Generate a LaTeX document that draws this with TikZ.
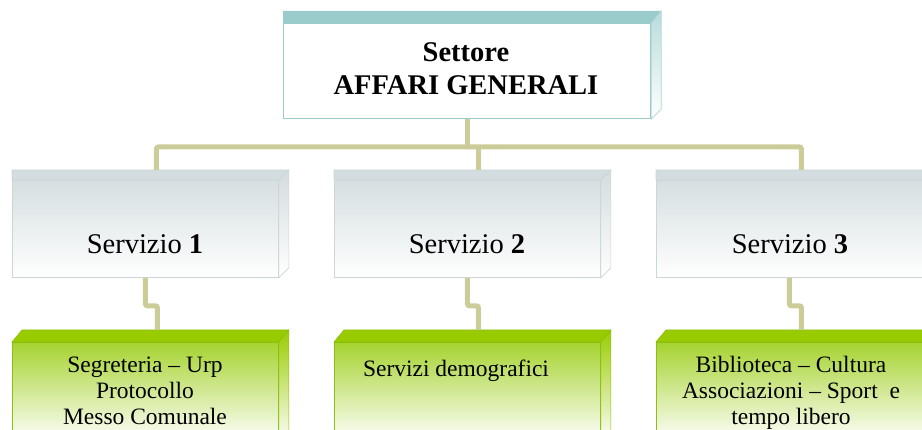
\documentclass[tikz,border=0pt]{standalone}
\usepackage{fontspec}
\setmainfont{Liberation Serif}
\usetikzlibrary{calc}
\definecolor{tealc}{HTML}{9ACCCB}
\definecolor{grayedge}{HTML}{CCD6D8}
\definecolor{grayface}{HTML}{D3DCDE}
\definecolor{graytop}{HTML}{D6DFE1}
\definecolor{greentop}{HTML}{99CC00}
\definecolor{greenface}{HTML}{A6D330}
\definecolor{greenedge}{HTML}{8CBF10}
\definecolor{linec}{HTML}{CCCC99}
\begin{document}
\begin{tikzpicture}[x=1pt,y=-1pt,
  topbox/.style={draw=tealc, line width=1.2pt, fill=white, minimum width=367pt, minimum height=95pt, inner sep=0pt, anchor=north west},
  servbox/.style={draw=grayedge, line width=0.8pt, top color=graytop, bottom color=white, minimum width=266pt, minimum height=97pt, inner sep=0pt, anchor=north west},
  greenbox/.style={draw=greenedge, line width=0.8pt, top color=greenface, bottom color=white, minimum width=266pt, minimum height=100pt, inner sep=0pt, anchor=north west},
  conn/.style={draw=linec, line width=5pt, rounded corners=2pt},
  bigtxt/.style={font=\fontsize{28.5}{33}\selectfont, align=center, anchor=base},
  smalltxt/.style={font=\fontsize{23.5}{26}\selectfont, align=center, anchor=base},
]
\useasboundingbox (0,0) rectangle (922,430);

% ---- top box ----
\node[topbox] (top) at (283,23) {};
\fill[tealc] (top.north west) -- ++(0,-12) -- ($(top.north east)+(10,-12)$) -- (top.north east) -- cycle;
\shade[top color=tealc!70, bottom color=white, draw=tealc!80, line width=0.6pt]
  (top.north east) -- ++(10,-12) -- ($(top.south east)+(10,-10)$) -- (top.south east) -- cycle;

% ---- service boxes ----
\foreach \n/\x in {1/12, 2/334, 3/656} {
  \node[servbox] (s\n) at (\x,180) {};
  \fill[grayface, draw=grayedge, line width=0.6pt] (s\n.north west) -- ++(0,-10) -- ($(s\n.north east)+(10,-10)$) -- (s\n.north east) -- cycle;
  \shade[top color=grayface, bottom color=white, draw=grayedge, line width=0.6pt]
    (s\n.north east) -- ++(10,-10) -- ($(s\n.south east)+(10,-10)$) -- (s\n.south east) -- cycle;
}

% ---- green boxes ----
\foreach \n/\x in {1/12, 2/334, 3/656} {
  \node[greenbox] (g\n) at (\x,342) {};
  \fill[greentop, draw=greenedge, line width=0.6pt] (g\n.north west) -- ++(10,-12) -- ($(g\n.north east)+(10,-12)$) -- (g\n.north east) -- cycle;
  \shade[top color=greentop, bottom color=white, draw=greenedge, line width=0.6pt]
    (g\n.north east) -- ++(10,-12) -- ($(g\n.south east)+(10,-12)$) -- (g\n.south east) -- cycle;
}

% ---- connectors ----
\coordinate (bus) at (0,147);
\draw[conn] (top.south) -- (top.south |- bus);
\draw[conn] ($(s1.north)+(11,-10)$) -- ($(s1.north)+(11,-33)$) -- ($(s3.north)+(12,-33)$) -- ($(s3.north)+(12,-10)$);
\draw[conn] ($(s2.north)+(11,-10)$) -- ($(s2.north)+(11,-33)$);
\draw[conn] (s1.south) -- ++(0,28) -| ($(g1.north)+(12,-12)$);
\draw[conn] (s2.south) -- ++(0,28) -| ($(g2.north)+(11,-12)$);
\draw[conn] (s3.south) -- ++(0,28) -| ($(g3.north)+(12,-12)$);

% ---- texts ----
\node[bigtxt] (toptxt) at (466,95) {\textbf{Settore}\\\textbf{AFFARI GENERALI}};
\node[bigtxt] (st1) at (145,254) {Servizio \textbf{1}};
\node[bigtxt] (st2) at (467,254) {Servizio \textbf{2}};
\node[bigtxt] (st3) at (790,254) {Servizio \textbf{3}};
\node[smalltxt] (gt1) at (145,425) {Segreteria -- Urp\\Protocollo\\Messo Comunale};
\node[smalltxt] (gt2) at (456,377) {Servizi demografici};
\node[smalltxt] (gt3) at (791,425) {Biblioteca -- Cultura\\Associazioni -- Sport~ e\\tempo libero};
\end{tikzpicture}
\end{document}
